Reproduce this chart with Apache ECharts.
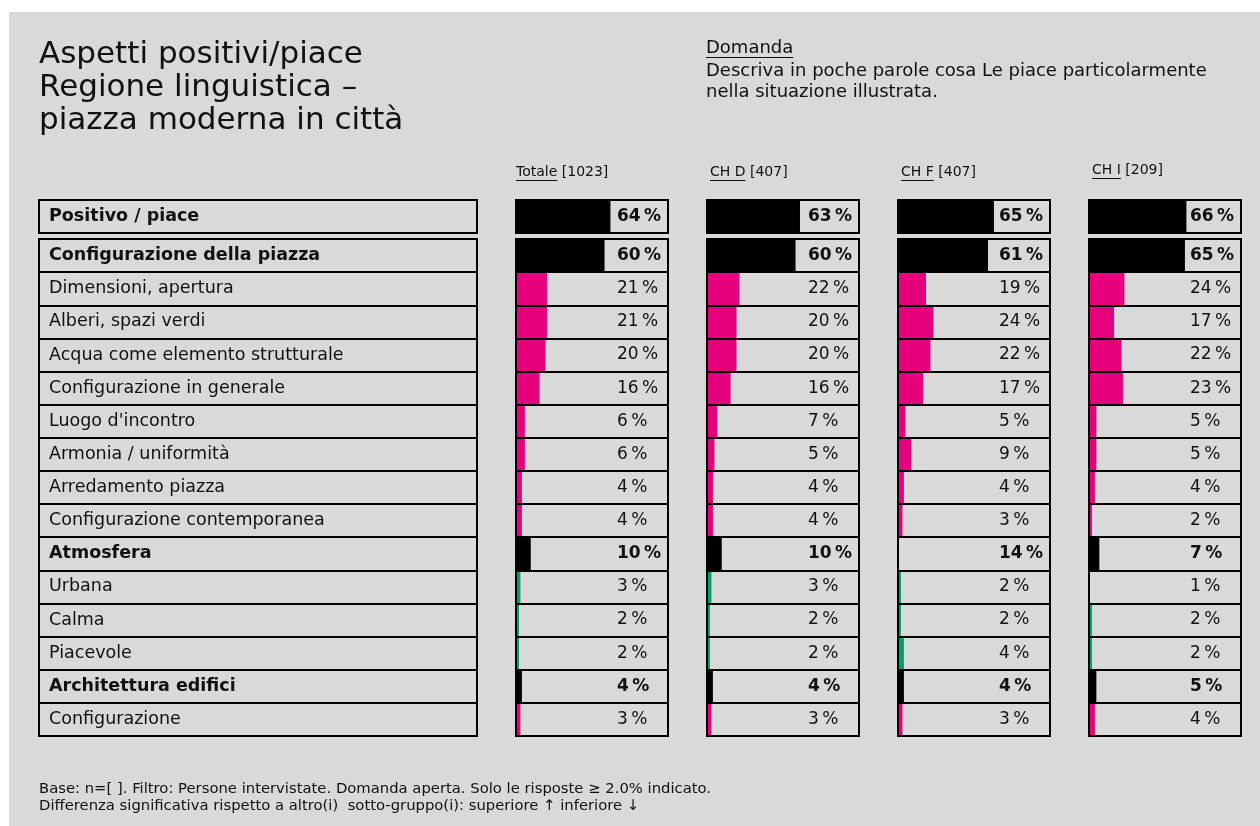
<!DOCTYPE html>
<html>
<head>
<meta charset="utf-8">
<script src="https://cdn.jsdelivr.net/npm/echarts@6/dist/echarts.min.js"></script>
<style>
  html, body { margin: 0; padding: 0; background: #ffffff; }
  #chart { width: 1260px; height: 826px; }
</style>
</head>
<body>
<div id="chart"></div>
<script>
// ---- data ----
const topRow = ['Positivo / piace'];
const rows = [
  'Configurazione della piazza', 'Dimensioni, apertura', 'Alberi, spazi verdi',
  'Acqua come elemento strutturale', 'Configurazione in generale', "Luogo d'incontro",
  'Armonia / uniformità', 'Arredamento piazza', 'Configurazione contemporanea',
  'Atmosfera', 'Urbana', 'Calma', 'Piacevole', 'Architettura edifici', 'Configurazione'
];
const headRows = ['Positivo / piace', 'Configurazione della piazza', 'Atmosfera', 'Architettura edifici'];
// tone of each row below the top row
const rowTone = ['head', 'pink', 'pink', 'pink', 'pink', 'pink', 'pink', 'pink', 'pink',
                 'head', 'green', 'green', 'green', 'head', 'pink'];
const groups = ['Totale', 'CH D', 'CH F', 'CH I'];
const groupN = ['[1023]', '[407]', '[407]', '[209]'];
// first value = Positivo / piace, then the rows above in order
const totale = [64, 60, 21, 21, 20, 16, 6, 6, 4, 4, 10, 3, 2, 2, 4, 3];
const chD    = [63, 60, 22, 20, 20, 16, 7, 5, 4, 4, 10, 3, 2, 2, 4, 3];
const chF    = [65, 61, 19, 24, 22, 17, 5, 9, 4, 3, 14, 2, 2, 4, 4, 3];
const chI    = [66, 65, 24, 17, 22, 23, 5, 5, 4, 2, 7, 1, 2, 2, 5, 4];
// cells shown with a figure only, no bar (group index, value index)
const barless = [[2, 10], [3, 11]];

const title = ['Aspetti positivi/piace', 'Regione linguistica –', 'piazza moderna in città'];
const questionHead = 'Domanda';
const question = ['Descriva in poche parole cosa Le piace particolarmente', 'nella situazione illustrata.'];
const footer = [
  'Base: n=[ ]. Filtro: Persone intervistate. Domanda aperta. Solo le risposte ≥ 2.0% indicato.',
  'Differenza significativa rispetto a altro(i)  sotto-gruppo(i): superiore ↑ inferiore ↓'
];

// ---- styling ----
const FONT = '"DejaVu Sans", sans-serif';
const INK = '#111111';
const BG = '#d9d9d9';
const TONE = { head: '#000000', pink: '#e5007d', green: '#009e68' };
const allValues = [totale, chD, chF, chI];

const labelLeft = 39, labelWidth = 438;
const colLefts = [516, 707, 898, 1089];
const colWidth = 152;
const topY = 200, topH = 33, bodyY = 239, bodyH = 497;
const scaleMax = 103;

const measureCtx = document.createElement('canvas').getContext('2d');
function textWidth(t, font) { measureCtx.font = font; return measureCtx.measureText(t).width; }
function pct(v) { return v + '\u2009%'; }

const chart = echarts.init(document.getElementById('chart'), null, { renderer: 'canvas' });

const grids = [], xAxes = [], yAxes = [], series = [];

function addGrid(left, width, top, height, cats, labelFn, margin, size) {
  const gi = grids.length;
  grids.push({ left, width, top, height, show: true, borderColor: '#000', borderWidth: 2,
               backgroundColor: 'transparent', z: 3, containLabel: false });
  xAxes.push({ gridIndex: gi, type: 'value', min: 0, max: scaleMax, show: false });
  yAxes.push({
    gridIndex: gi, type: 'category', data: cats, inverse: true, z: 3,
    axisLine: { show: false }, axisTick: { show: false, interval: 0 },
    splitLine: { show: true, interval: 0, lineStyle: { color: '#000', width: 2 } },
    axisLabel: {
      show: true, inside: true, margin, interval: 0, align: 'left',
      formatter: labelFn,
      rich: {
        r: { fontFamily: FONT, fontSize: size, color: INK },
        b: { fontFamily: FONT, fontSize: size, color: INK, fontWeight: 'bold' }
      }
    }
  });
  return gi;
}

// label table
addGrid(labelLeft, labelWidth, topY, topH, topRow, (v) => '{b|' + v + '}', 10, 17.5);
addGrid(labelLeft, labelWidth, bodyY, bodyH, rows,
  (v) => (headRows.includes(v) ? '{b|' : '{r|') + v + '}', 10, 17.5);

// one column per group
allValues.forEach((vals, g) => {
  const hidden = barless.filter(c => c[0] === g).map(c => c[1]);
  const gTop = addGrid(colLefts[g], colWidth, topY, topH, topRow,
    (v, i) => '{b|' + pct(vals[0]) + '}', 101, 17);
  const gBody = addGrid(colLefts[g], colWidth, bodyY, bodyH, rows,
    (v, i) => (rowTone[i] === 'head' ? '{b|' : '{r|') + pct(vals[i + 1]) + '}', 101, 17);
  series.push({
    type: 'bar', xAxisIndex: gTop, yAxisIndex: gTop, barWidth: '100%', silent: true,
    data: [{ value: vals[0], itemStyle: { color: TONE.head } }]
  });
  series.push({
    type: 'bar', xAxisIndex: gBody, yAxisIndex: gBody, barWidth: '100%', silent: true,
    data: vals.slice(1).map((v, i) => ({
      value: v,
      itemStyle: { color: hidden.includes(i + 1) ? 'rgba(0,0,0,0)' : TONE[rowTone[i]] }
    }))
  });
});

// ---- text around the table ----
const graphic = [];
graphic.push({ type: 'rect', z: -10, shape: { x: 9, y: 12, width: 1251, height: 814 }, style: { fill: BG } });
title.forEach((t, i) => graphic.push({
  type: 'text', x: 39, y: 55 + i * 33,
  style: { text: t, font: '31px ' + FONT, fill: INK, verticalAlign: 'middle' }
}));
const qFont = '18px ' + FONT;
graphic.push({ type: 'text', x: 706, y: 48, style: { text: questionHead, font: qFont, fill: INK, verticalAlign: 'middle' } });
graphic.push({ type: 'line', shape: { x1: 706, y1: 57.5, x2: 706 + textWidth(questionHead, qFont), y2: 57.5 }, style: { stroke: INK, lineWidth: 1 } });
question.forEach((t, i) => graphic.push({
  type: 'text', x: 706, y: 71 + i * 21, style: { text: t, font: qFont, fill: INK, verticalAlign: 'middle' }
}));
const hFont = '14px ' + FONT;
groups.forEach((name, g) => {
  const x = colLefts[g] + (g === 0 ? 0 : 3);
  const y = g === 3 ? 170 : 172;
  const w = textWidth(name, hFont);
  graphic.push({ type: 'text', x, y, style: { text: name, font: hFont, fill: INK, verticalAlign: 'middle' } });
  graphic.push({ type: 'line', shape: { x1: x, y1: y + 8.5, x2: x + w, y2: y + 8.5 }, style: { stroke: INK, lineWidth: 1 } });
  graphic.push({ type: 'text', x: x + w + textWidth(' ', hFont), y, style: { text: groupN[g], font: hFont, fill: INK, verticalAlign: 'middle' } });
});
const fFont = '14.8px ' + FONT;
footer.forEach((t, i) => graphic.push({
  type: 'text', x: 39, y: 789 + i * 17, style: { text: t, font: fFont, fill: INK, verticalAlign: 'middle' }
}));

chart.setOption({
  animation: false,
  backgroundColor: '#ffffff',
  grid: grids,
  xAxis: xAxes,
  yAxis: yAxes,
  series,
  graphic
});
</script>
</body>
</html>
